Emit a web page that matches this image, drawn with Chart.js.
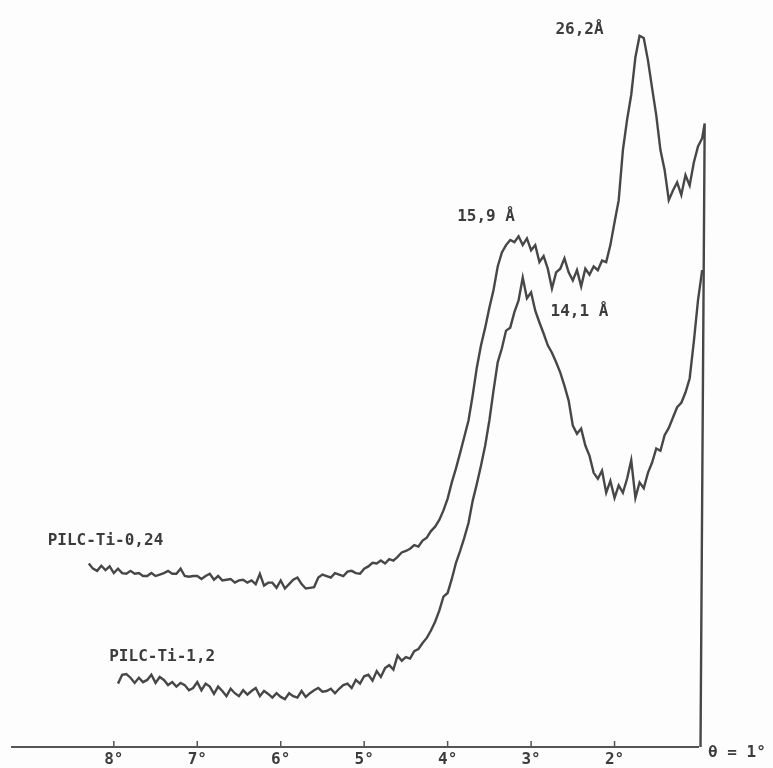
<!DOCTYPE html>
<html>
<head>
<meta charset="utf-8">
<script src="https://cdn.jsdelivr.net/npm/chart.js@4/dist/chart.umd.min.js"></script>
<style>
  html, body { margin: 0; padding: 0; background: #fdfdfd; }
  #wrap { width: 773px; height: 768px; position: relative; }
</style>
</head>
<body>
<div id="wrap"><canvas id="xrd"></canvas></div>
<script>
// diffraction angle theta (degrees), shared by both scans
const theta = [
  8.30, 8.25, 8.20, 8.15, 8.10, 8.05, 8.00,
  7.95, 7.90, 7.85, 7.80, 7.75, 7.70, 7.65, 7.60, 7.55, 7.50, 7.45, 7.40, 7.35, 7.30, 7.25, 7.20, 7.15, 7.10, 7.05, 7.00,
  6.95, 6.90, 6.85, 6.80, 6.75, 6.70, 6.65, 6.60, 6.55, 6.50, 6.45, 6.40, 6.35, 6.30, 6.25, 6.20, 6.15, 6.10, 6.05, 6.00,
  5.95, 5.90, 5.85, 5.80, 5.75, 5.70, 5.65, 5.60, 5.55, 5.50, 5.45, 5.40, 5.35, 5.30, 5.25, 5.20, 5.15, 5.10, 5.05, 5.00,
  4.95, 4.90, 4.85, 4.80, 4.75, 4.70, 4.65, 4.60, 4.55, 4.50, 4.45, 4.40, 4.35, 4.30, 4.25, 4.20, 4.15, 4.10, 4.05, 4.00,
  3.95, 3.90, 3.85, 3.80, 3.75, 3.70, 3.65, 3.60, 3.55, 3.50, 3.45, 3.40, 3.35, 3.30, 3.25, 3.20, 3.15, 3.10, 3.05, 3.00,
  2.95, 2.90, 2.85, 2.80, 2.75, 2.70, 2.65, 2.60, 2.55, 2.50, 2.45, 2.40, 2.35, 2.30, 2.25, 2.20, 2.15, 2.10, 2.05, 2.00,
  1.95, 1.90, 1.85, 1.80, 1.75, 1.70, 1.65, 1.60, 1.55, 1.50, 1.45, 1.40, 1.35, 1.30, 1.25, 1.20, 1.15, 1.10, 1.05, 1.00,
  0.95
];

// PILC-Ti-0,24 intensity (arbitrary units)
const pilc024 = [
  24.9, 24.2, 23.9, 24.6, 24.0, 24.5, 23.6,
  24.2, 23.6, 23.5, 23.9, 23.5, 23.6, 23.2, 23.2, 23.6, 23.2, 23.4, 23.6, 23.9, 23.5, 23.5, 24.2, 23.2, 23.1, 23.2, 23.2,
  22.8, 23.2, 23.5, 22.7, 23.2, 22.6, 22.7, 22.8, 22.3, 22.6, 22.7, 22.3, 22.6, 22.1, 23.5, 21.9, 22.3, 22.3, 21.6, 22.6,
  21.5, 22.1, 22.7, 23.0, 22.1, 21.5, 21.6, 21.7, 23.0, 23.4, 23.2, 23.0, 23.6, 23.4, 23.2, 23.8, 23.9, 23.6, 23.5, 24.2,
  24.5, 25.0, 24.9, 25.3, 24.9, 25.5, 25.3, 25.8, 26.4, 26.6, 26.9, 27.4, 27.2, 28.0, 28.4, 29.3, 29.9, 30.8, 32.1, 33.7,
  35.9, 37.8, 39.9, 42.1, 44.3, 47.7, 51.5, 54.5, 56.9, 59.6, 62.0, 65.2, 67.1, 68.1, 68.8, 68.5, 69.3, 68.1, 69.0, 67.4,
  68.1, 65.8, 66.6, 64.9, 62.2, 64.4, 64.9, 66.3, 64.4, 63.3, 64.7, 62.5, 64.9, 64.1, 65.2, 64.7, 66.0, 65.8, 68.1, 71.2,
  74.2, 81.0, 85.1, 88.5, 93.6, 96.5, 96.2, 93.2, 89.4, 85.7, 81.0, 78.3, 74.2, 75.5, 76.6, 74.9, 77.6, 76.2, 79.3, 81.5,
  82.6
];
// end of the 0,24 scan: last reading, then the pen drop to the baseline
const pilc024EndTheta = [0.92, 0.97];
const pilc024EndI = [84.6, 0];

// PILC-Ti-1,2 intensity (arbitrary units), scan starts at 7.95
const pilc12 = [
  null, null, null, null, null, null, null,
  8.6, 9.8, 9.9, 9.4, 8.7, 9.4, 8.8, 9.1, 9.8, 8.7, 9.5, 9.1, 8.4, 8.8, 8.2, 8.7, 8.4, 7.7, 8.0, 8.8,
  7.7, 8.6, 8.2, 7.2, 8.2, 7.6, 6.9, 7.9, 7.3, 6.9, 7.7, 7.1, 7.6, 8.0, 6.9, 7.6, 7.2, 6.7, 7.3, 6.8,
  6.5, 7.3, 6.9, 6.7, 7.6, 6.8, 7.3, 7.7, 8.0, 7.5, 7.6, 7.9, 7.3, 7.9, 8.4, 8.6, 8.0, 9.1, 8.6, 9.6,
  9.8, 9.0, 10.3, 9.5, 10.7, 11.1, 10.5, 12.4, 11.7, 12.2, 12.0, 13.0, 13.3, 14.1, 14.8, 15.8, 17.0, 18.5, 20.4, 20.9,
  22.8, 25.0, 26.6, 28.4, 30.4, 33.4, 35.7, 38.2, 40.9, 44.3, 48.4, 52.2, 54.1, 56.5, 56.9, 59.0, 60.6, 63.7, 60.9, 61.7,
  59.2, 57.6, 56.1, 54.5, 53.5, 52.2, 50.8, 49.0, 47.0, 43.6, 42.5, 43.2, 40.9, 39.5, 37.2, 36.4, 37.5, 34.5, 36.1, 33.8,
  35.5, 34.5, 36.4, 38.9, 33.8, 35.9, 35.1, 37.2, 38.6, 40.5, 40.2, 42.3, 43.3, 44.7, 46.1, 46.7, 48.1, 50.0, 55.0, 60.6,
  64.7
];

const tickDegrees = [8, 7, 6, 5, 4, 3, 2];

// text labels: [text, theta, intensity]
const notes = [
  ["26,2Å", 2.42, 97.3],
  ["15,9 Å", 3.54, 71.9],
  ["14,1 Å", 2.42, 59.1],
  ["PILC-Ti-0,24", 8.10, 28.0],
  ["PILC-Ti-1,2", 7.42, 12.2]
];

const ink = "#474747";
const textFont = "bold 16px 'DejaVu Sans Mono', monospace";

function toPoints(xs, ys) {
  return xs.map((v, i) => ({ x: v, y: ys[i] })).filter(p => p.y !== null);
}

const extras = {
  id: "extras",
  afterDraw(chart) {
    const { ctx } = chart;
    const x = chart.scales.x;
    const y = chart.scales.y;
    ctx.save();

    // small upward tick marks
    ctx.strokeStyle = "#555";
    ctx.lineWidth = 1.5;
    tickDegrees.forEach(d => {
      const px = x.getPixelForValue(d);
      ctx.beginPath();
      ctx.moveTo(px, y.bottom);
      ctx.lineTo(px, y.bottom - 6);
      ctx.stroke();
    });

    ctx.fillStyle = "#3c3c3c";
    ctx.font = textFont;
    ctx.textBaseline = "middle";

    ctx.textAlign = "left";
    ctx.fillText("θ = 1°", x.getPixelForValue(1) + 10, y.bottom + 6);

    ctx.textAlign = "center";
    notes.forEach(([t, th, v]) => {
      ctx.fillText(t, x.getPixelForValue(th), y.getPixelForValue(v));
    });
    ctx.restore();
  }
};

new Chart(document.getElementById("xrd"), {
  type: "line",
  data: {
    datasets: [
      {
        label: "PILC-Ti-0,24",
        data: toPoints(theta, pilc024).concat(toPoints(pilc024EndTheta, pilc024EndI)),
        borderColor: ink,
        borderWidth: 2.4,
        pointRadius: 0,
        tension: 0,
        clip: false,
      },
      {
        label: "PILC-Ti-1,2",
        data: toPoints(theta, pilc12),
        borderColor: ink,
        borderWidth: 2.4,
        pointRadius: 0,
        tension: 0,
        clip: false,
      },
    ],
  },
  options: {
    responsive: true,
    maintainAspectRatio: false,
    animation: false,
    layout: { padding: { top: 10, right: 75, bottom: -5, left: 12 } },
    plugins: {
      legend: { display: false },
      tooltip: { enabled: false },
    },
    scales: {
      x: {
        type: "linear",
        reverse: true,
        min: 1,
        max: 9.22,
        grid: { display: true, drawOnChartArea: false, drawTicks: false },
        border: { color: "#555", width: 2 },
        ticks: {
          stepSize: 1,
          autoSkip: false,
          maxRotation: 0,
          padding: 5,
          color: "#3c3c3c",
          font: { family: "'DejaVu Sans Mono', monospace", size: 16, weight: "bold", lineHeight: 1 },
          callback: v => (tickDegrees.includes(v) ? v + "°" : ""),
        },
      },
      y: {
        display: false,
        min: 0,
        max: 100,
      },
    },
  },
  plugins: [extras],
});
</script>
</body>
</html>
